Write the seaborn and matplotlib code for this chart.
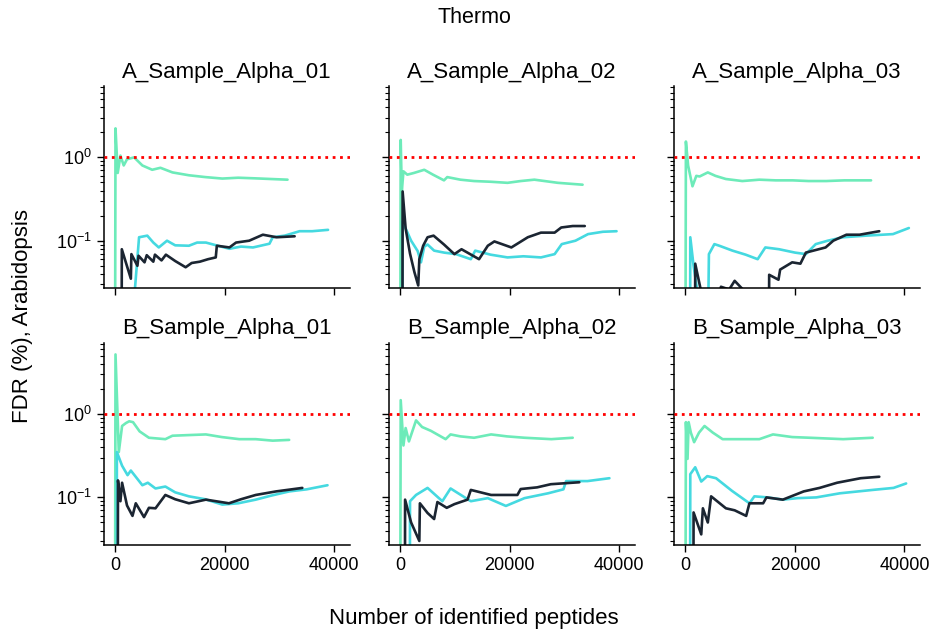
import numpy as np
import pandas as pd
import matplotlib
matplotlib.use("Agg")
import matplotlib.pyplot as plt
import seaborn as sns

# panels and series
samples = ["A_Sample_Alpha_01", "A_Sample_Alpha_02", "A_Sample_Alpha_03",
           "B_Sample_Alpha_01", "B_Sample_Alpha_02", "B_Sample_Alpha_03"]
methods = ["green", "cyan", "dark"]
colors = {"green": "#6DEBB9", "cyan": "#45D9E0", "dark": "#1B2532"}

# peptides (thousands) / FDR (%), 0.001 = below the axis
a1_green_x = [0, 0.1, 0.5, 1.0, 1.6, 2.2, 3.5, 5.0, 6.8, 8.3, 10.5, 13.5, 16.5, 19.6, 22.5, 25.7, 28.5, 31.5]
a1_green_y = [0.001, 2.23, 0.65, 1.05, 0.8, 0.95, 1.0, 0.8, 0.71, 0.75, 0.66, 0.61, 0.58, 0.557, 0.57, 0.56, 0.55, 0.54]
a1_cyan_x = [3.2, 3.5, 4.4, 5.9, 7.0, 8.0, 9.5, 11.0, 13.5, 15.0, 16.6, 18.5, 20.9, 23.0, 25.2, 28.2, 28.8, 31.0, 33.7, 36.0, 38.9]
a1_cyan_y = [0.001, 0.02, 0.11, 0.115, 0.095, 0.083, 0.1, 0.088, 0.087, 0.095, 0.095, 0.088, 0.08, 0.085, 0.083, 0.092, 0.11, 0.115, 0.13, 0.13, 0.135]
a1_dark_x = [1.2, 1.25, 2.9, 3.0, 4.1, 4.3, 5.4, 5.8, 7.0, 7.3, 8.5, 9.3, 11.0, 12.9, 14.0, 15.5, 17.0, 18.4, 18.6, 20.9, 22.1, 24.5, 27.0, 29.5, 32.8]
a1_dark_y = [0.001, 0.079, 0.035, 0.069, 0.05, 0.066, 0.055, 0.067, 0.056, 0.068, 0.058, 0.068, 0.057, 0.048, 0.054, 0.056, 0.06, 0.063, 0.087, 0.083, 0.095, 0.1, 0.118, 0.11, 0.113]

a2_green_x = [0, 0.1, 0.3, 0.6, 1.3, 2.5, 4.4, 6.0, 8.0, 8.6, 11.0, 13.5, 16.5, 19.6, 22.0, 24.5, 28.8, 33.3]
a2_green_y = [0.001, 1.62, 0.39, 0.68, 0.62, 0.65, 0.71, 0.62, 0.53, 0.58, 0.54, 0.52, 0.51, 0.495, 0.52, 0.54, 0.495, 0.47]
a2_cyan_x = [0.4, 0.45, 1.0, 2.0, 3.2, 3.8, 4.4, 5.0, 6.2, 8.0, 10.2, 12.9, 13.7, 16.5, 19.6, 22.5, 25.7, 28.2, 29.5, 32.0, 34.3, 37.0, 39.5]
a2_cyan_y = [0.001, 0.17, 0.14, 0.1, 0.075, 0.055, 0.085, 0.09, 0.076, 0.072, 0.069, 0.06, 0.076, 0.068, 0.063, 0.065, 0.063, 0.069, 0.091, 0.1, 0.12, 0.128, 0.13]
a2_dark_x = [0.4, 0.45, 1.0, 1.8, 2.6, 3.3, 3.5, 4.2, 5.0, 6.1, 8.0, 9.9, 11.2, 14.4, 16.0, 17.2, 20.3, 23.3, 25.7, 28.2, 29.4, 31.5, 33.7]
a2_dark_y = [0.001, 0.39, 0.14, 0.07, 0.042, 0.029, 0.06, 0.087, 0.11, 0.115, 0.09, 0.069, 0.079, 0.06, 0.087, 0.098, 0.083, 0.11, 0.125, 0.125, 0.144, 0.15, 0.15]

a3_green_x = [0, 0.1, 0.5, 1.3, 2.0, 2.6, 4.1, 5.5, 7.4, 10.4, 13.5, 16.5, 19.6, 22.5, 25.7, 29.0, 33.9]
a3_green_y = [0.001, 1.55, 0.8, 0.45, 0.6, 0.59, 0.66, 0.6, 0.55, 0.52, 0.54, 0.53, 0.53, 0.52, 0.52, 0.53, 0.53]
a3_cyan_x = [0.85, 0.9, 1.5, 2.4, 4.2, 4.3, 5.3, 6.2, 8.6, 11.0, 13.2, 14.6, 17.1, 20.0, 22.0, 23.8, 26.0, 28.8, 33.0, 37.9, 40.8]
a3_cyan_y = [0.001, 0.11, 0.05, 0.02, 0.02, 0.069, 0.091, 0.087, 0.076, 0.068, 0.06, 0.083, 0.079, 0.072, 0.069, 0.091, 0.1, 0.11, 0.115, 0.12, 0.142]
a3_dark_x = [1.75, 1.8, 2.8, 6.4, 6.5, 8.0, 9.0, 11.0, 15.2, 15.3, 17.0, 17.3, 19.5, 21.0, 22.0, 25.6, 27.0, 29.4, 31.8, 35.4]
a3_dark_y = [0.001, 0.053, 0.026, 0.026, 0.028, 0.026, 0.033, 0.024, 0.001, 0.039, 0.034, 0.045, 0.055, 0.053, 0.072, 0.083, 0.1, 0.118, 0.118, 0.13]

b1_green_x = [0, 0.1, 0.7, 1.3, 2.0, 2.6, 3.3, 4.5, 6.2, 9.2, 10.5, 13.5, 16.6, 19.5, 22.7, 25.7, 28.8, 31.8]
b1_green_y = [0.001, 5.2, 0.35, 0.72, 0.78, 0.82, 0.8, 0.62, 0.52, 0.5, 0.55, 0.56, 0.57, 0.53, 0.5, 0.5, 0.48, 0.49]
b1_cyan_x = [0.3, 0.35, 1.3, 2.3, 2.9, 5.0, 6.0, 7.4, 9.2, 11.0, 13.5, 16.5, 19.6, 22.5, 25.7, 28.5, 31.8, 35.0, 38.8]
b1_cyan_y = [0.001, 0.35, 0.24, 0.185, 0.21, 0.14, 0.15, 0.128, 0.135, 0.115, 0.103, 0.095, 0.082, 0.085, 0.094, 0.105, 0.118, 0.125, 0.14]
b1_dark_x = [0.5, 0.55, 1.0, 1.3, 2.2, 3.2, 3.8, 5.3, 6.2, 7.4, 9.2, 11.0, 13.5, 16.6, 20.8, 23.0, 25.7, 29.4, 34.2]
b1_dark_y = [0.001, 0.16, 0.09, 0.15, 0.08, 0.06, 0.085, 0.058, 0.075, 0.074, 0.107, 0.095, 0.085, 0.094, 0.085, 0.095, 0.107, 0.118, 0.13]

b2_green_x = [0, 0.1, 0.6, 1.0, 1.6, 2.9, 4.0, 5.6, 8.3, 9.2, 11.0, 13.5, 16.6, 19.5, 22.7, 27.6, 31.5]
b2_green_y = [0.001, 1.47, 0.42, 0.68, 0.47, 0.84, 0.7, 0.63, 0.5, 0.57, 0.54, 0.52, 0.57, 0.54, 0.52, 0.5, 0.52]
b2_cyan_x = [1.75, 1.8, 2.9, 5.0, 7.7, 9.2, 12.9, 16.0, 19.3, 22.7, 27.0, 29.8, 30.3, 34.2, 38.2]
b2_cyan_y = [0.001, 0.09, 0.107, 0.13, 0.09, 0.128, 0.09, 0.098, 0.079, 0.098, 0.112, 0.125, 0.157, 0.157, 0.17]
b2_dark_x = [0.85, 0.9, 2.0, 3.5, 3.6, 5.0, 6.2, 6.8, 8.5, 9.9, 12.3, 12.9, 16.6, 21.4, 22.0, 25.0, 27.5, 32.7]
b2_dark_y = [0.001, 0.094, 0.05, 0.03, 0.085, 0.065, 0.055, 0.088, 0.075, 0.083, 0.094, 0.123, 0.107, 0.107, 0.126, 0.132, 0.144, 0.152]

b3_green_x = [0, 0.1, 0.4, 0.6, 1.0, 1.6, 2.5, 3.5, 5.0, 6.8, 10.0, 13.5, 16.0, 19.5, 22.7, 28.8, 34.2]
b3_green_y = [0.001, 0.8, 0.29, 0.8, 0.6, 0.46, 0.6, 0.72, 0.6, 0.5, 0.5, 0.5, 0.57, 0.53, 0.52, 0.5, 0.52]
b3_cyan_x = [0.85, 0.9, 1.8, 2.9, 4.0, 5.6, 8.5, 11.7, 12.6, 15.0, 17.8, 20.5, 23.9, 28.2, 34.2, 38.0, 40.3]
b3_cyan_y = [0.001, 0.19, 0.23, 0.155, 0.18, 0.17, 0.12, 0.085, 0.103, 0.1, 0.094, 0.098, 0.1, 0.112, 0.123, 0.13, 0.147]
b3_dark_x = [1.45, 1.5, 2.9, 3.2, 4.1, 4.7, 7.4, 9.0, 11.1, 11.7, 14.2, 14.8, 17.8, 21.6, 24.5, 27.7, 32.0, 35.4]
b3_dark_y = [0.001, 0.066, 0.036, 0.074, 0.05, 0.103, 0.074, 0.07, 0.06, 0.085, 0.085, 0.1, 0.094, 0.118, 0.13, 0.15, 0.17, 0.177]

series = {
    samples[0]: [(a1_green_x, a1_green_y), (a1_cyan_x, a1_cyan_y), (a1_dark_x, a1_dark_y)],
    samples[1]: [(a2_green_x, a2_green_y), (a2_cyan_x, a2_cyan_y), (a2_dark_x, a2_dark_y)],
    samples[2]: [(a3_green_x, a3_green_y), (a3_cyan_x, a3_cyan_y), (a3_dark_x, a3_dark_y)],
    samples[3]: [(b1_green_x, b1_green_y), (b1_cyan_x, b1_cyan_y), (b1_dark_x, b1_dark_y)],
    samples[4]: [(b2_green_x, b2_green_y), (b2_cyan_x, b2_cyan_y), (b2_dark_x, b2_dark_y)],
    samples[5]: [(b3_green_x, b3_green_y), (b3_cyan_x, b3_cyan_y), (b3_dark_x, b3_dark_y)],
}

rows = []
for s in samples:
    for m, (xs, ys) in zip(methods, series[s]):
        for x, y in zip(xs, ys):
            rows.append({"sample": s, "method": m, "peptides": x * 1000, "fdr": y})
df = pd.DataFrame(rows)

sns.set_style("ticks")
plt.rcParams["font.family"] = ["Liberation Sans", "DejaVu Sans"]
plt.rcParams["mathtext.fontset"] = "custom"
plt.rcParams["mathtext.rm"] = "Liberation Sans"
plt.rcParams["mathtext.it"] = "Liberation Sans:italic"
for k in ["text.color", "axes.labelcolor", "xtick.color", "ytick.color", "axes.edgecolor"]:
    plt.rcParams[k] = "black"

g = sns.relplot(data=df, x="peptides", y="fdr", hue="method", col="sample", col_wrap=3,
                kind="line", palette=colors, estimator=None, sort=False, legend=False,
                linewidth=1.9, height=3, aspect=1.2,
                facet_kws={"sharex": True, "sharey": True})
g.figure.set_size_inches(9.35, 6.32)
g.set(yscale="log")
g.set(ylim=(0.027, 7.2), xticks=[0, 20000, 40000])
g.set_titles("{col_name}", size=16)
g.set_axis_labels("", "")
for ax in g.axes.flat:
    ax.axhline(1, color="red", linestyle=":", linewidth=2, zorder=5)
    ax.tick_params(labelsize=13, length=5, width=1)
    ax.tick_params(which="minor", length=3, width=0.8)
    for sp in ax.spines.values():
        sp.set_linewidth(1.1)

g.figure.subplots_adjust(left=0.111, right=0.984, top=0.864, bottom=0.138, wspace=0.16, hspace=0.27)
g.figure.text(0.507, 0.972, "Thermo", ha="center", va="center", fontsize=15.5)
g.figure.text(0.507, 0.022, "Number of identified peptides", ha="center", va="center", fontsize=16)
g.figure.text(0.024, 0.5, "FDR (%), Arabidopsis", ha="center", va="center", rotation=90, fontsize=16)

g.figure.savefig("out.png", dpi=100)
